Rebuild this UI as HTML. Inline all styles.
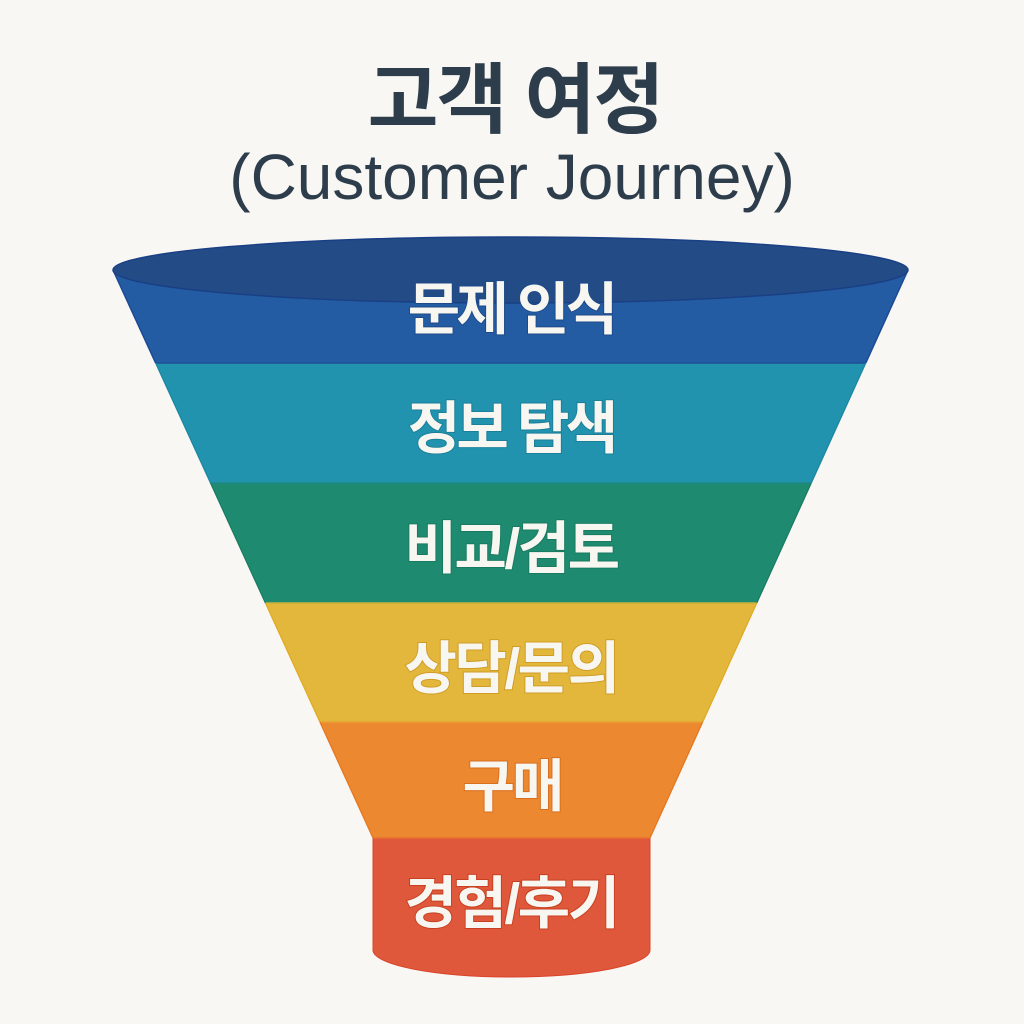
<!DOCTYPE html>
<html>
<head>
<meta charset="utf-8">
<style>
  html, body { margin:0; padding:0; background:#f9f7f3; }
  body { width:1024px; height:1024px; overflow:hidden; }
  svg { display:block; }
  .title { font-family:"Liberation Sans","Noto Sans CJK KR",sans-serif; font-weight:700; fill:#2d3d4c; }
  .sub { font-family:"Liberation Sans","Noto Sans CJK KR",sans-serif; font-weight:400; fill:#2d3d4c; }
  .lbl { font-family:"Liberation Sans","Noto Sans CJK KR",sans-serif; font-weight:700; fill:#f8f6f0; }
</style>
</head>
<body>
<svg width="1024" height="1024" viewBox="0 0 1024 1024" xmlns="http://www.w3.org/2000/svg">
  <rect width="1024" height="1024" fill="#f9f7f3"/>

  <text class="title" x="515" y="127" text-anchor="middle" font-size="77" letter-spacing="-2">고객 여정</text>
  <text class="sub" x="512" y="199" text-anchor="middle" font-size="64">(Customer Journey)</text>

  <!-- band 1 -->
  <polygon points="113,270 908,270 865.8,363 155.6,363" fill="#235ca3"/>
  <!-- band 2 -->
  <polygon points="155.6,363 865.8,363 811.3,483 210.5,483" fill="#2193ae"/>
  <!-- band 3 -->
  <polygon points="210.5,483 811.3,483 756.8,603 265.4,603" fill="#1e8b70"/>
  <!-- band 4 -->
  <polygon points="265.4,603 756.8,603 702.7,722 319.9,722" fill="#e2b73b"/>
  <!-- band 5 -->
  <polygon points="319.9,722 702.7,722 650,838 373,838" fill="#eb8830"/>
  <!-- band 6 cylinder -->
  <path d="M373,838 L650,838 L650,950 A138.5,27 0 0 1 373,950 Z" fill="#e0583c" stroke="#d9442a" stroke-width="1"/>

  <!-- boundary lines -->
  <line x1="155.6" y1="363" x2="865.8" y2="363" stroke="#1f4f96" stroke-width="1.5"/>
  <line x1="210.5" y1="483" x2="811.3" y2="483" stroke="#1c8a86" stroke-width="1.5"/>
  <line x1="265.4" y1="603" x2="756.8" y2="603" stroke="#c9b23a" stroke-width="1.5"/>
  <line x1="319.9" y1="722" x2="702.7" y2="722" stroke="#e8a232" stroke-width="1.5"/>
  <line x1="373" y1="838" x2="650" y2="838" stroke="#e8702f" stroke-width="1.5"/>

  <!-- side edges -->
  <line x1="113" y1="270" x2="155.6" y2="363" stroke="#1b4a94" stroke-width="1.5"/>
  <line x1="908" y1="270" x2="865.8" y2="363" stroke="#1b4a94" stroke-width="1.5"/>
  <line x1="155.6" y1="363" x2="210.5" y2="483" stroke="#1a86a0" stroke-width="1.2"/>
  <line x1="865.8" y1="363" x2="811.3" y2="483" stroke="#1a86a0" stroke-width="1.2"/>
  <line x1="210.5" y1="483" x2="265.4" y2="603" stroke="#187a60" stroke-width="1.2"/>
  <line x1="811.3" y1="483" x2="756.8" y2="603" stroke="#187a60" stroke-width="1.2"/>
  <line x1="265.4" y1="603" x2="319.9" y2="722" stroke="#e0aa20" stroke-width="1.2"/>
  <line x1="756.8" y1="603" x2="702.7" y2="722" stroke="#e0aa20" stroke-width="1.2"/>
  <line x1="319.9" y1="722" x2="373" y2="838" stroke="#e4761e" stroke-width="1.2"/>
  <line x1="702.7" y1="722" x2="650" y2="838" stroke="#e4761e" stroke-width="1.2"/>

  <!-- top ellipse -->
  <ellipse cx="510.5" cy="270" rx="397.5" ry="33" fill="#234c87" stroke="#1a3f85" stroke-width="1.5"/>

  <!-- labels -->
  <g style="paint-order:stroke" stroke-width="2">
    <text class="lbl" x="511" y="329" text-anchor="middle" font-size="57" letter-spacing="-3.8" stroke="#1d4a8a">문제 인식</text>
    <text class="lbl" x="511" y="448" text-anchor="middle" font-size="57" letter-spacing="-3.8" stroke="#1a7f99">정보 탐색</text>
    <text class="lbl" x="511" y="568" text-anchor="middle" font-size="57" letter-spacing="-2.5" stroke="#187a60">비교/검토</text>
    <text class="lbl" x="511" y="688" text-anchor="middle" font-size="57" letter-spacing="-2.5" stroke="#d09c26">상담/문의</text>
    <text class="lbl" x="512" y="806" text-anchor="middle" font-size="57" letter-spacing="-3" stroke="#d96e1f">구매</text>
    <text class="lbl" x="511" y="923" text-anchor="middle" font-size="57" letter-spacing="-2.5" stroke="#c8401f">경험/후기</text>
  </g>
</svg>
</body>
</html>
